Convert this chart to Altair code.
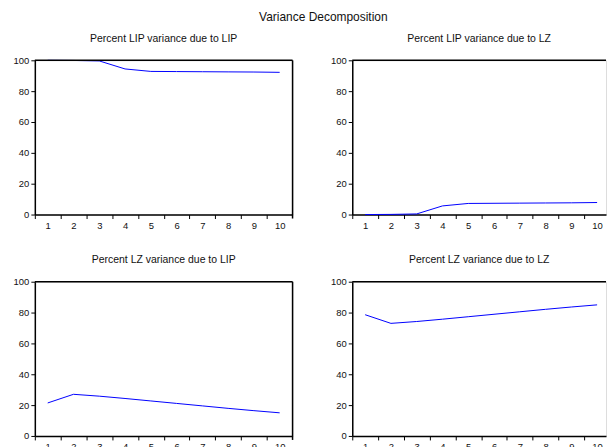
import altair as alt
import pandas as pd

periods = [1, 2, 3, 4, 5, 6, 7, 8, 9, 10]
lip_due_lz = [0.0, 0.1, 0.4, 5.6, 7.2, 7.3, 7.4, 7.5, 7.6, 7.8]
lip_due_lip = [100 - v for v in lip_due_lz]
lz_due_lip = [21.4, 27.0, 25.8, 24.3, 22.7, 21.1, 19.5, 17.9, 16.4, 15.0]
lz_due_lz = [100 - v for v in lz_due_lip]
y_ticks = [0, 20, 40, 60, 80, 100]
x_ticks = [0.5, 1.5, 2.5, 3.5, 4.5, 5.5, 6.5, 7.5, 8.5, 9.5]

FONT = "Liberation Sans"
H = 155
STEP = 25.9
TICK_PX = 4


def panel(vals, title, full_box, width):
    xmax = 0.5 + width / STEP
    df = pd.DataFrame({"period": periods, "value": vals})
    one = pd.DataFrame({"a": [0]})
    x_axis = alt.Axis(
        values=x_ticks,
        labelExpr="format(datum.value + 0.5, 'd')",
        labelOffset=STEP / 2,
    )
    y_axis = alt.Axis(values=y_ticks)
    xs = alt.Scale(domain=[0.5, xmax], nice=False, zero=False)
    ys = alt.Scale(domain=[0, 100], nice=False, zero=False)
    line = alt.Chart(df).mark_line(color="#0000ff", strokeWidth=1).encode(
        x=alt.X("period:Q", scale=xs, axis=x_axis, title=None),
        y=alt.Y("value:Q", scale=ys, axis=y_axis, title=None),
    )
    top = alt.Chart(one).mark_rule(color="black", strokeWidth=1.5).encode(
        y=alt.YDatum(100, axis=y_axis, scale=ys, title=None)
    )
    layers = [line, top]
    if full_box:
        right = alt.Chart(one).mark_rule(color="black", strokeWidth=1.5).encode(
            x=alt.XDatum(10.5, axis=x_axis, scale=xs, title=None),
            y=alt.YDatum(100, axis=y_axis, scale=ys, title=None),
            y2=alt.Y2Datum(-TICK_PX * 100 / H),
        )
        layers.append(right)
    return alt.layer(*layers).properties(
        width=width,
        height=H,
        title=alt.TitleParams(
            title, font=FONT, fontSize=10.5, fontWeight="normal",
            color="#111", offset=11, anchor="middle",
        ),
    )


p1 = panel(lip_due_lip, "Percent LIP variance due to LIP", True, 259)
p2 = panel(lip_due_lz, "Percent LIP variance due to LZ", False, 255)
p3 = panel(lz_due_lip, "Percent LZ variance due to LIP", True, 259)
p4 = panel(lz_due_lz, "Percent LZ variance due to LZ", False, 255)

chart = alt.vconcat(
    alt.hconcat(p1, p2, spacing=35),
    alt.hconcat(p3, p4, spacing=35),
    spacing=24.5,
).properties(
    title=alt.TitleParams(
        "Variance Decomposition", font=FONT, fontSize=12, fontWeight="normal",
        color="#111", anchor="middle", offset=9.5, dx=13.5,
    ),
    padding={"left": 12, "top": 9.5, "right": 0, "bottom": -5},
).configure_view(stroke=None).configure(background="white").configure_axis(
    grid=False,
    tickSize=TICK_PX,
    labelPadding=2,
    domainColor="black",
    domainWidth=1.5,
    tickColor="black",
    labelColor="#111",
    labelFont=FONT,
    labelFontSize=9.5,
    labelFlush=False,
    labelOverlap=False,
    labelBound=False,
)

chart.save("out.html", embed_options={"renderer": "svg", "actions": False})
